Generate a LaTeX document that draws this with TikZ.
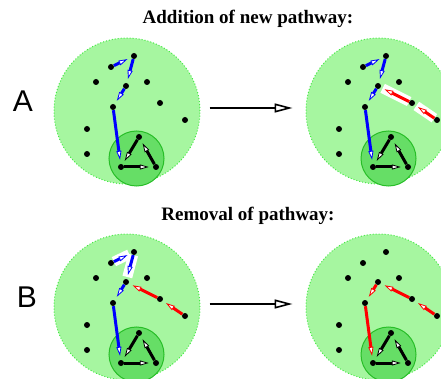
\documentclass[tikz,border=0pt]{standalone}
\usepackage{fontspec}
\setmainfont{Liberation Serif}
\newfontfamily\letterfont{Liberation Sans}
\usetikzlibrary{arrows.meta}

\definecolor{cellgreen}{RGB}{166,246,160}
\definecolor{cellrim}{RGB}{70,232,70}
\definecolor{coregreen}{RGB}{102,222,102}
\definecolor{corerim}{RGB}{40,190,40}
\definecolor{pathblue}{RGB}{0,0,255}
\definecolor{pathred}{RGB}{255,0,0}

\tikzset{
  cell/.style={circle, minimum size=146pt, inner sep=0pt, fill=cellgreen, draw=cellrim, dotted, line width=1pt},
  core/.style={circle, minimum size=55pt, inner sep=0pt, fill=coregreen, draw=corerim, line width=1pt},
  dot/.style={circle, fill=black, inner sep=0pt, minimum size=6pt},
  flow/.style={-{Triangle[length=9pt,width=5pt,fill=white,line width=0.8pt]}, line width=3pt, shorten >=4pt},
  glow/.style={white, line width=10pt, shorten >=2pt},
  bigflow/.style={-{Triangle[length=18pt,width=9pt,fill=white,line width=1.6pt]}, line width=2pt, shorten <=9pt, shorten >=13pt},
  title/.style={font=\bfseries\fontsize{19}{22}\selectfont},
  letter/.style={font=\letterfont\fontsize{30}{34}\selectfont}
}

\begin{document}
\begin{tikzpicture}[x=1pt,y=-1pt]
\useasboundingbox (0,0) rectangle (441,379);

% cells with their dots
\foreach \p/\cx/\cy in {A1/127/111, A2/379/111, B1/127/307, B2/379/307} {
  \node[cell] (\p) at (\cx,\cy) {};
  \begin{scope}[shift={(\cx,\cy)}]
    \node[core] (\p core) at (9.5,47.5) {};
    \foreach \n/\x/\y in {d1/-16/-44, d2/7/-55, d3/-31/-29, d4/20/-29, d5/-1/-25,
                          d6/33/-8, d7/-14/-4, d8/58/9, d9/-40/18, d10/-40/43,
                          t1/12/26, t2/-6/56, t3/29/56}
      \node[dot] (\p\n) at (\x,\y) {};
  \end{scope}
}

% titles and labels
\node[title] (addtitle) at (248,19) {Addition of new pathway:};
\node[title] (remtitle) at (248,216) {Removal of pathway:};
\node[letter] (labA) at (23,101) {A};
\node[letter] (labB) at (27,297) {B};

% arrows between panels
\draw[bigflow] ([yshift=3pt]A1.east) -- ([yshift=3pt]A2.west);
\draw[bigflow] ([yshift=3pt]B1.east) -- ([yshift=3pt]B2.west);

% highlighted segments
\draw[glow] (A2d8) -- (A2d6);
\draw[glow] (A2d6) -- (A2d5);
\draw[glow] (B1d1) -- (B1d2);
\draw[glow] (B1d2) -- (B1d5);

% pathways
\foreach \p in {A1, A2, B1} {
  \draw[flow, pathblue] (\p d1) -- (\p d2);
  \draw[flow, pathblue] (\p d2) -- (\p d5);
  \draw[flow, pathblue] (\p d5) -- (\p d7);
  \draw[flow, pathblue] (\p d7) -- (\p t2);
}
\foreach \p in {A2, B1, B2} {
  \draw[flow, pathred] (\p d8) -- (\p d6);
  \draw[flow, pathred] (\p d6) -- (\p d5);
}
\draw[flow, pathred] (B2d5) -- (B2d7);
\draw[flow, pathred] (B2d7) -- (B2t2);

% core cycle
\foreach \p in {A1, A2, B1, B2} {
  \draw[flow] (\p t1) -- (\p t2);
  \draw[flow] (\p t2) -- (\p t3);
  \draw[flow] (\p t3) -- (\p t1);
}

\end{tikzpicture}
\end{document}
